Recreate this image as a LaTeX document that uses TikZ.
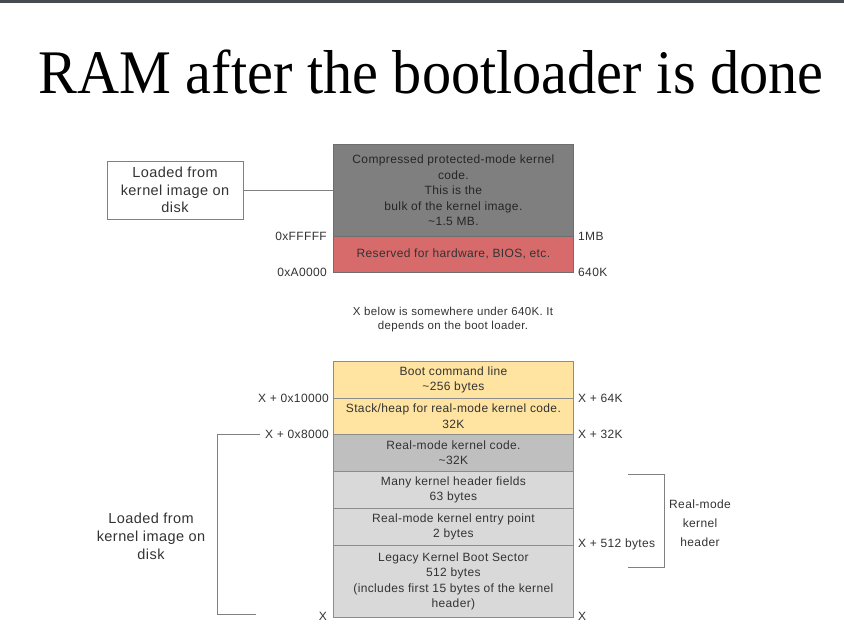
\documentclass[tikz,border=0pt]{standalone}
\usepackage{fontspec}
\setmainfont[LetterSpace=3]{Liberation Sans}
\newfontfamily\titlefont{Liberation Serif}
\definecolor{topbar}{HTML}{474B4F}
\definecolor{bulkgray}{HTML}{7F7F7F}
\definecolor{bulkedge}{HTML}{6E6E6E}
\definecolor{biosred}{HTML}{D76B6B}
\definecolor{bootyellow}{HTML}{FFE3A0}
\definecolor{codegray}{HTML}{BFBFBF}
\definecolor{hdrgray}{HTML}{D9D9D9}
\definecolor{memedge}{HTML}{8C8C8C}
\definecolor{linegray}{HTML}{808080}
\definecolor{memtext}{HTML}{333333}
\begin{document}
\begin{tikzpicture}[x=1pt,y=-1pt,
  mem/.style={draw=memedge, line width=0.8pt, minimum width=240pt, anchor=north west,
    inner sep=0pt, align=center, text=memtext, font=\fontsize{12}{15.5}\selectfont},
  lbl/.style={inner sep=0pt, text=memtext, font=\fontsize{12}{14}\selectfont},
  note/.style={inner sep=0pt, align=center, text=memtext, font=\fontsize{11.5}{13.5}\selectfont},
  bigtxt/.style={inner sep=0pt, align=center, text=memtext, font=\fontsize{14.5}{18}\selectfont},
  conn/.style={draw=linegray, line width=0.8pt}
]
\useasboundingbox (0,0) rectangle (844,637);
\fill[white] (0,0) rectangle (844,637);
\fill[topbar] (0,0) rectangle (844,2.5);

% title
\node[anchor=base, inner sep=0pt] (title) at (431,93)
  {\titlefont\fontsize{62}{70}\selectfont\scalebox{0.94}[1]{RAM after the bootloader is done}};

% upper memory: protected-mode kernel and reserved area
\node[mem, fill=bulkgray, draw=bulkedge, minimum height=92pt, text=black!85] (bulk) at (333,144)
  {Compressed protected-mode kernel\\code.\\This is the\\bulk of the kernel image.\\\textasciitilde1.5 MB.};
\node[mem, fill=biosred, draw=bulkedge, minimum height=36pt, text=black!80] (bios) at (333,236)
  {Reserved for hardware, BIOS, etc.};

\node[draw=linegray, line width=0.8pt, minimum width=136pt, minimum height=58pt,
  inner sep=0pt, align=center, text=memtext, font=\fontsize{14.5}{17.5}\selectfont]
  (diskA) at (175,190) {Loaded from\\kernel image on\\disk};
\draw[conn] (diskA.east) -- (bulk.west |- diskA.east);

\node[lbl, anchor=east] (aFFFFF) at (327,236) {0xFFFFF};
\node[lbl, anchor=west] (a1MB) at (578,236) {1MB};
\node[lbl, anchor=east] (aA0000) at (327,272) {0xA0000};
\node[lbl, anchor=west] (a640K) at (578,272) {640K};

\node[note] (remark) at (453,319.5)
  {X below is somewhere under 640K. It\\depends on the boot loader.};

% real-mode area above X
\node[mem, fill=bootyellow, minimum height=37pt] (cmdline) at (333,361)
  {Boot command line\\\textasciitilde256 bytes};
\node[mem, fill=bootyellow, minimum height=36pt] (heap) at (333,398)
  {Stack/heap for real-mode kernel code.\\32K};
\node[mem, fill=codegray, minimum height=37pt] (rmcode) at (333,434)
  {Real-mode kernel code.\\\textasciitilde32K};
\node[mem, fill=hdrgray, minimum height=37pt] (hdr) at (333,471)
  {Many kernel header fields\\63 bytes};
\node[mem, fill=hdrgray, minimum height=37pt] (entry) at (333,508)
  {Real-mode kernel entry point\\2 bytes};
\node[mem, fill=hdrgray, minimum height=72pt] (legacy) at (333,545)
  {Legacy Kernel Boot Sector\\512 bytes\\(includes first 15 bytes of the kernel\\header)};

\node[lbl, anchor=east] (x10000) at (329,398) {X + 0x10000};
\node[lbl, anchor=west] (x64K) at (578,398) {X + 64K};
\node[lbl, anchor=east] (x8000) at (329,434) {X + 0x8000};
\node[lbl, anchor=west] (x32K) at (578,434) {X + 32K};
\node[lbl, anchor=west] (x512) at (578,544) {X + 512 bytes};
\node[lbl, anchor=east] (xbotL) at (327,616) {X};
\node[lbl, anchor=west] (xbotR) at (578,616) {X};

% bracket for the part loaded from disk
\coordinate (lbTop) at (217,434);
\coordinate (lbEnd) at (256,614);
\draw[conn] ([xshift=-5pt]x8000.west) -- (lbTop) |- (lbEnd);
\node[bigtxt] (diskB) at (151,536)
  {Loaded from\\kernel image on\\disk};

% bracket for the real-mode kernel header
\coordinate (rbTopIn) at (628,474);
\coordinate (rbTop) at (664,474);
\coordinate (rbBotIn) at (628,567);
\draw[conn] (rbTopIn) -- (rbTop) |- (rbBotIn);
\node[note, font=\fontsize{12}{19}\selectfont] (rmhdr) at (700,523)
  {Real-mode\\kernel\\header};
\end{tikzpicture}
\end{document}
